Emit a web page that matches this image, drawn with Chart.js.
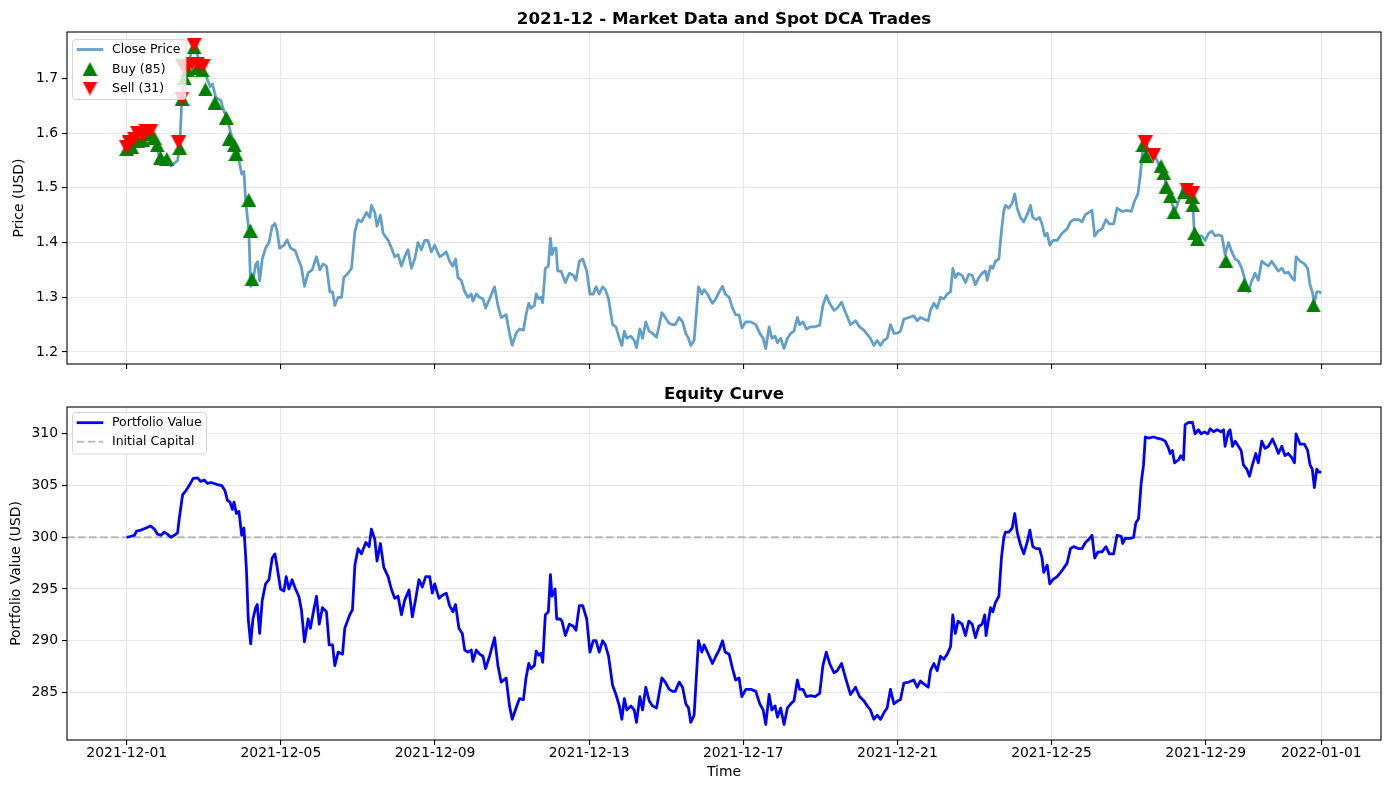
<!DOCTYPE html>
<html>
<head>
<meta charset="utf-8">
<script src="https://cdn.jsdelivr.net/npm/chart.js@4.4.0/dist/chart.umd.min.js"></script>
<style>
body { margin: 0; background: #fff; width: 1389px; height: 790px; overflow: hidden; position: relative; }
canvas { position: absolute; left: 0; }
#top { top: 0; }
#bottom { top: 372px; }
</style>
</head>
<body>
<canvas id="top" width="1389" height="372"></canvas>
<canvas id="bottom" width="1389" height="418"></canvas>
<script>
// hours since 2021-12-01 00:00
const xTickHours = [0, 96, 192, 288, 384, 480, 576, 672, 744];
const xTickLabels = ['2021-12-01', '2021-12-05', '2021-12-09', '2021-12-13', '2021-12-17',
    '2021-12-21', '2021-12-25', '2021-12-29', '2022-01-01'];
const priceTicks = [1.2, 1.3, 1.4, 1.5, 1.6, 1.7];
const equityTicks = [285, 290, 295, 300, 305, 310];
const initialCapital = 300;

// [hour, close]
const closePrice = [
    [0,1.575],[2.7,1.58],[5.8,1.585],[9,1.59],[12,1.595],[15,1.60],[17.8,1.59],[20.3,1.555],[24.4,1.555],
    [27.5,1.54],[29.6,1.545],[31.7,1.55],[33,1.575],[34.3,1.66],[35.8,1.70],[37.9,1.725],[40.5,1.75],[43,1.76],
    [45,1.73],[47.6,1.715],[50,1.70],[52,1.685],[53.4,1.69],[55.5,1.665],[58.6,1.66],[60.6,1.64],[62.7,1.625],
    [64.8,1.60],[66.8,1.585],[68.9,1.575],[70.3,1.545],[71.6,1.525],[73,1.53],[74,1.48],[75,1.45],[76,1.425],
    [77.2,1.32],[78.6,1.33],[80.3,1.36],[81.5,1.365],[82.8,1.33],[84.4,1.37],[86.5,1.39],[88.6,1.40],[90.6,1.43],
    [92.3,1.435],[93.7,1.42],[95.2,1.39],[97.9,1.395],[99.9,1.405],[102,1.39],[105,1.385],[106.8,1.37],
    [108.8,1.355],[110.7,1.32],[113,1.345],[115.5,1.35],
    [118.2,1.374],[120.3,1.35],[122.3,1.361],[124.4,1.357],[126.5,1.31],[128.2,1.31],[129.6,1.285],[131.7,1.30],
    [133.8,1.30],[135.2,1.336],[137.9,1.344],[140,1.353],[142.1,1.42],[144.1,1.442],[146.2,1.438],[149.3,1.455],
    [151.4,1.446],[152.4,1.468],[154.5,1.455],[155.9,1.43],[158,1.45],[159.7,1.417],[162.8,1.404],[164.9,1.39],
    [166.9,1.374],[169,1.378],[171.1,1.357],[173.1,1.374],[175.2,1.387],[177.3,1.353],[179.4,1.37],[181.4,1.40],
    [183.5,1.387],[185.6,1.404],[187.6,1.404],[189.7,1.383],[191.8,1.395],[194.9,1.374],[197,1.378],[199,1.383],
    [201.1,1.366],[203.2,1.357],[204.8,1.37],[206.3,1.336],[208.4,1.331],[210.5,1.31],[212.5,1.30],[214.6,1.306],
    [215.6,1.293],[217.7,1.306],[219.8,1.30],[221.9,1.297],[223.5,1.28],[226,1.297],[229.1,1.319],[231.2,1.285],
    [233.2,1.263],[236.3,1.268],[238.4,1.234],[240.1,1.212],
    [242.5,1.234],[244.6,1.242],[247.1,1.24],[248.7,1.268],[250.4,1.289],[251.8,1.28],[253.9,1.285],[255,1.306],
    [256.6,1.297],[258,1.30],[259.1,1.29],[260.7,1.353],[262.6,1.357],[263.9,1.408],[264.9,1.378],[266.3,1.39],
    [267.4,1.39],[268.4,1.348],[270.5,1.348],[273.2,1.327],[275.7,1.344],[278.2,1.34],[279.8,1.331],[281.9,1.366],
    [284,1.37],[286.5,1.348],[288.5,1.306],[290.6,1.306],[292.3,1.319],[294.3,1.306],[296.4,1.319],[298.1,1.314],
    [300.1,1.297],[302.6,1.25],[304.7,1.246],[306.8,1.225],[308.4,1.212],[309.9,1.238],[311.5,1.225],[314,1.229],
    [316.1,1.221],[317.5,1.208],[319.6,1.242],[321.3,1.225],[323.3,1.255],[325.4,1.238],[327.5,1.234],[330,1.227],
    [333.3,1.272],[335.4,1.263],[337.9,1.252],[340,1.25],[341.6,1.25],[344.1,1.263],[346.2,1.255],[348.2,1.234],
    [349.9,1.225],[351.3,1.212],[353.4,1.221],[356.1,1.319],[358.2,1.306],[359.6,1.314],[361.7,1.306],[364.8,1.289],
    [366.9,1.297],[369,1.31],[371.1,1.32],[372.7,1.306],[375.2,1.30],[377.3,1.28],[379.3,1.268],[381.4,1.268],
    [383.1,1.244],[385.6,1.255],[388.7,1.255],[391.8,1.25],[394.3,1.234],[396.4,1.225],[398,1.206],[400.1,1.246],
    [401.8,1.225],[403.8,1.229],[405.3,1.217],[407.3,1.225],[409.4,1.206],[411.5,1.225],[413.6,1.234],[415.6,1.238],
    [417.7,1.263],[419.1,1.25],[421.2,1.255],[423.3,1.242],[426,1.246],[428.7,1.246],[431.6,1.249],[433.6,1.285],
    [435.7,1.303],[437.8,1.289],[440.5,1.276],[442.5,1.28],[445.2,1.291],[447.7,1.272],[450.8,1.25],[453.9,1.257],
    [456.4,1.246],[459.1,1.24],[461.2,1.232],[463.2,1.225],[465.3,1.212],[467.4,1.221],[469.5,1.212],[471.5,1.221],
    [473.6,1.225],[475.7,1.25],[477.8,1.234],[480.4,1.235],[481.9,1.238],[484,1.26],[487.1,1.263],[490.2,1.266],
    [492.3,1.257],[494.3,1.263],[497.5,1.259],[499.2,1.257],[500.6,1.276],[502.7,1.289],[504.8,1.28],[506.8,1.30],
    [508.9,1.297],[511,1.306],[513.1,1.31],[514.5,1.353],[516.1,1.336],[517.8,1.344],[520.3,1.34],[522.4,1.327],
    [524.5,1.342],[526.6,1.34],[528.6,1.323],[530.7,1.336],[532.8,1.344],[534.8,1.348],[535.9,1.331],[538,1.357],
    [539.4,1.353],[541.1,1.366],[543.2,1.37],[544.8,1.421],[546.3,1.459],[547.3,1.468],[549.4,1.463],[551.5,1.472],
    [553.1,1.489],[554.6,1.463],[556.6,1.446],[558.7,1.438],[560.8,1.451],[562.9,1.468],[564.3,1.446],[566.4,1.442],
    [568.5,1.446],[570.1,1.434],[571.8,1.412],[573.3,1.417],[574.9,1.395],[576.8,1.404],[579.5,1.404],[582.6,1.417],
    [585.7,1.425],[587.8,1.438],[589.8,1.442],[593,1.442],[595,1.438],[597.1,1.451],[599.2,1.455],[601.2,1.459],
    [602.9,1.412],[605,1.421],[607.4,1.425],[609.9,1.442],[612,1.434],[614.7,1.434],[616.8,1.463],
    [618.8,1.459],[620.3,1.457],[623,1.459],[625.7,1.457],[627.7,1.476],[629.8,1.489],[631.3,1.523],[632.7,1.57],
    [634.4,1.583],[636.4,1.57],[638.5,1.566],[640.6,1.557],[642.7,1.544],[644.7,1.536],[646.8,1.514],[648.9,1.497],
    [651,1.472],[652.6,1.455],[654.7,1.472],[656.8,1.489],[658.2,1.506],[660.3,1.502],[662.4,1.493],[663.8,1.48],
    [664.8,1.425],[666.5,1.412],[669.6,1.412],[671.7,1.404],[673.8,1.417],[675.8,1.421],[677.9,1.412],[680,1.414],
    [682.1,1.412],[684.1,1.378],[686.2,1.40],[688.3,1.383],[690.4,1.37],[692.4,1.366],[694.5,1.353],[696.6,1.331],
    [698.7,1.31],[700.3,1.327],[702.8,1.344],[704.8,1.331],[706.9,1.366],[709,1.361],[711.1,1.357],[713.1,1.366],
    [715.2,1.357],[717.3,1.348],[719.4,1.353],[721.4,1.344],[723.5,1.346],[725.6,1.336],[727.3,1.331],[728.3,1.374],
    [730.8,1.366],[733.5,1.361],[735.5,1.353],[737,1.323],[738.4,1.31],[739.7,1.289],[741.2,1.31],[742.6,1.31],[744,1.308]
];

// [hour, price] of trades
const buyTrades = [
    [0,1.571],[3,1.575],[7,1.585],[10,1.587],[14,1.598],[17,1.592],[19,1.578],[21,1.555],[25,1.553],[33,1.573],
    [34.5,1.663],[36,1.70],[38,1.715],[42,1.757],[44,1.72],[47,1.715],[49,1.68],[55,1.656],[62,1.628],[64,1.59],
    [67,1.578],[68,1.562],[76,1.478],[77,1.422],[78,1.333],
    [632.9,1.578],[634.9,1.559],[644.2,1.54],[645.9,1.527],[647.3,1.502],[650,1.485],[652.2,1.455],[658.8,1.493],
    [663.5,1.484],[664,1.468],[665.1,1.417],[666.8,1.406],[684.6,1.366],[696,1.323],[739.1,1.285]
];
const sellTrades = [
    [0,1.574],[1.7,1.583],[4.8,1.59],[6.8,1.60],[10,1.595],[12,1.604],[15,1.604],[32.3,1.583],[34.3,1.663],
    [34.8,1.723],[37.2,1.72],[40.6,1.727],[42,1.761],[44,1.727],[47.6,1.723],
    [634.4,1.583],[639.5,1.56],[660.3,1.497],[663.8,1.49]
];

// [hour, portfolio value]
const portfolioValue = [
    [0,300.0],[2.7,300.1],[4.8,300.2],[6.2,300.6],[8.9,300.7],[12,300.9],[14.7,301.1],[17.2,300.8],[19.2,300.3],
    [21.3,300.2],[23.4,300.5],[25.4,300.3],[27.5,300.0],[30.6,300.3],[31.7,300.45],[32.7,301.8],[33.7,302.9],
    [34.8,304.1],[36.8,304.5],[38.9,305.0],[41.4,305.7],[44.1,305.75],[46.1,305.4],[48.2,305.55],[50.3,305.2],
    [52.3,305.3],[54.4,305.2],[56.5,305.1],[59.2,305.0],[61.2,304.5],[62.7,303.6],[64.3,303.4],[65.8,302.7],
    [66.8,303.4],[68.3,302.3],[69.9,302.5],[71.6,300.2],[73,300.9],[74.5,297.1],[75.7,292.1],[77.2,289.7],
    [78.6,292.1],[80.3,293.2],[81.3,293.5],[82.8,290.7],[84.4,293.9],[86.5,295.5],[88.6,295.9],[90.6,298.0],
    [92.3,298.4],[93.7,297.1],[95.8,295.0],[97.9,294.8],[99.3,296.2],[101,295.0],[103,295.9],[105.1,295.0],
    [107.2,294.3],[108.8,293.0],[110.7,289.9],[113,292.1],[114.4,291.2],[116.5,293.0],
    [118.2,294.3],[119.9,291.6],[121.9,293.2],[124.4,292.8],[126.1,289.6],[128.2,289.6],[129.6,287.6],[131.7,288.9],
    [134.4,288.7],[135.8,291.2],[138.9,292.5],[140.6,293.0],[142.1,297.3],[144.1,298.9],[146.2,298.4],[148.9,299.5],
    [151,299.1],[152.4,300.8],[154.5,299.8],[155.9,297.7],[158,299.4],[160.1,297.1],[162.8,296.2],[164.8,295.0],
    [166.9,294.1],[169,294.3],[171.1,292.5],[173.1,293.9],[175.8,294.9],[177.9,292.3],[179.8,293.9],[182,295.9],
    [184.1,295.2],[186.2,296.2],[188.7,296.2],[190.3,294.6],[191.8,295.5],[194.5,294.1],[196.6,294.4],[199,294.6],
    [201.1,293.4],[203.2,292.8],[204.8,293.5],[206.9,291.2],[209,290.7],[210.5,289.1],[212.5,288.9],[214.6,289.1],
    [215.6,288.0],[217.7,289.1],[219.8,288.7],[221.9,288.5],[223.5,287.3],[226,288.5],[229.1,290.3],[231.2,287.6],
    [233.2,286.0],[236.3,286.4],[238.4,283.7],[240.1,282.4],
    [242.5,283.5],[244.6,284.4],[247.1,284.3],[248.7,286.4],[250.4,287.8],[251.8,287.3],[253.9,287.6],[255,289.0],
    [256.6,288.6],[258,288.8],[259.1,287.9],[260.7,292.5],[262.6,292.8],[263.9,296.4],[264.9,294.3],[266.8,295.0],
    [267.8,292.1],[269.9,292.1],[271.1,291.9],[273.2,290.5],[275.7,291.6],[278.2,291.4],[279.8,291.0],[281.9,293.4],
    [284,293.4],[286.5,292.1],[288.5,288.9],[290.6,290.0],[292.3,290.0],[294.3,288.9],[296.4,290.0],[298.1,289.6],
    [300.1,288.5],[302.6,285.7],[304.7,284.8],[306.8,283.7],[308.4,282.4],[309.9,284.4],[311.5,283.3],[314,283.7],
    [316.1,283.3],[317.5,282.1],[319.6,284.6],[321.3,283.3],[323.3,285.5],[325.4,284.2],[327.5,283.7],[330,283.5],
    [333.3,286.4],[335.4,286.0],[337.9,285.3],[340,285.1],[341.6,285.1],[344.1,286.0],[346.2,285.5],[348.2,283.9],
    [349.9,283.5],[351.3,282.1],[353.4,282.8],[356.1,290.0],[358.2,288.9],[359.6,289.6],[361.7,288.9],[364.8,287.8],
    [366.9,288.5],[369,289.1],[371.1,290.0],[372.7,288.9],[375.2,288.7],[377.3,287.3],[379.3,286.2],[381.4,286.4],
    [383.1,284.6],[385.6,285.3],[388.7,285.3],[391.8,285.1],[394.3,283.9],[396.4,283.3],[398,281.9],[400.1,284.8],
    [401.8,283.3],[403.8,283.7],[405.3,282.6],[407.3,283.5],[409.4,281.9],[411.5,283.5],[413.6,283.9],[415.6,284.2],
    [417.7,286.2],[419.1,285.3],[421.2,285.3],[423.3,284.6],[426,284.7],[428.7,284.6],[431.6,284.9],[433.6,287.6],
    [435.7,288.9],[437.8,287.8],[440.5,286.9],[442.5,287.1],[445.2,287.8],[447.7,286.4],[450.8,284.8],[453.9,285.5],
    [456.4,284.6],[459.1,284.2],[461.2,283.7],[463.2,283.3],[465.3,282.4],[467.4,282.8],[469.5,282.4],[471.5,283.0],
    [473.6,283.5],[475.7,285.3],[477.8,283.9],[480.4,284.2],[481.9,284.3],[484,285.9],[487.1,286.0],[490.2,286.2],
    [492.3,285.5],[494.3,286.1],[497.5,285.7],[499.2,285.5],[500.6,287.1],[502.7,287.8],[504.8,287.1],[506.8,288.5],
    [508.9,288.2],[511,288.7],[513.1,289.4],[514.5,292.5],[516.1,290.7],[517.8,291.9],[520.3,291.6],[522.4,290.5],
    [524.5,291.9],[526.6,291.6],[528.6,290.3],[530.7,291.4],[532.8,291.6],[534.4,292.5],[535.2,290.5],[538,293.2],
    [539.4,292.8],[541.1,293.7],[543.2,294.3],[544.8,298.0],[546.3,300.0],[547.3,300.5],[549.4,300.5],[551.5,300.9],
    [553.1,302.3],[554.6,300.5],[556.6,299.3],[558.7,298.4],[560.8,299.5],[562.5,300.7],[564.3,299.1],[566.4,298.9],
    [568.5,298.9],[570.1,298.0],[571.1,296.6],[573.3,297.3],[574.9,295.5],[576.8,295.9],[579.5,296.2],[582.6,296.8],
    [585.7,297.5],[587.8,298.9],[589.8,299.1],[593,298.9],[595,298.9],[597.1,299.5],[599.2,299.8],[601.2,300.2],
    [602.9,298.0],[605,298.6],[607.4,298.6],[609.9,299.1],[612,298.4],[614.7,298.4],[616.8,300.2],
    [619.4,300.1],[620.3,299.4],[621.9,299.9],[625,299.9],[627.1,300.0],[628.5,301.4],[630.2,301.8],[631.8,305.2],
    [633.3,307.0],[634.4,309.7],[636.4,309.6],[639.5,309.7],[641.6,309.6],[644.3,309.5],[646.8,309.3],[648.9,308.6],
    [649.9,308.1],[651.3,308.4],[652.6,307.2],[655.1,307.5],[656.5,307.9],[658.2,307.5],[659.2,310.9],[661.3,311.1],
    [663.8,311.1],[665.4,310.0],[667.5,310.4],[669.2,310.0],[671.2,310.2],[673.3,310.0],[674.8,310.5],[676.9,310.2],
    [679,310.4],[681.6,310.2],[683.1,310.4],[684.1,308.8],[686.2,310.2],[687.2,310.4],[688.7,308.8],[690.4,309.3],
    [692.4,308.8],[694.1,308.4],[695.5,307.0],[697.6,306.6],[699.3,305.9],[701.1,307.0],[703.2,308.1],[704.8,307.2],
    [706.9,309.3],[709,308.6],[711.1,308.8],[713.6,309.5],[715.6,308.8],[717.3,308.1],[719.4,308.8],[721.4,307.9],
    [723.5,308.1],[725.6,307.7],[727.3,307.2],[728.3,310.0],[730.8,309.0],[733.5,309.0],[735.5,308.4],[737,307.0],
    [738.4,306.6],[739.7,304.8],[741.2,306.6],[742.6,306.3],[744,306.3]
];

const FONT = "'DejaVu Sans', sans-serif";
Chart.defaults.font.family = FONT;
Chart.defaults.color = '#000';

const X_MIN = -37.2, X_MAX = 781.2;
const priceColor = 'rgba(31,119,180,0.7)';
const gridColor = '#e7e7e7';

function toPoints(pairs) {
    return pairs.map(p => ({ x: p[0], y: p[1] }));
}

// matplotlib style triangle markers
function triangle(color, down) {
    const c = document.createElement('canvas');
    c.width = 15; c.height = 14;
    const g = c.getContext('2d');
    g.fillStyle = color;
    g.beginPath();
    if (down) { g.moveTo(0, 0); g.lineTo(15, 0); g.lineTo(7.5, 14); }
    else { g.moveTo(7.5, 0); g.lineTo(15, 14); g.lineTo(0, 14); }
    g.closePath();
    g.fill();
    return c;
}
const buyMarker = triangle('#008000', false);
const sellMarker = triangle('#ff0000', true);

function roundRect(ctx, x, y, w, h, r) {
    ctx.beginPath();
    ctx.moveTo(x + r, y);
    ctx.lineTo(x + w - r, y); ctx.arcTo(x + w, y, x + w, y + r, r);
    ctx.lineTo(x + w, y + h - r); ctx.arcTo(x + w, y + h, x + w - r, y + h, r);
    ctx.lineTo(x + r, y + h); ctx.arcTo(x, y + h, x, y + h - r, r);
    ctx.lineTo(x, y + r); ctx.arcTo(x, y, x + r, y, r);
    ctx.closePath();
}

// frame, title and legend drawn over the datasets
const decorPlugin = {
    id: 'decor',
    afterDatasetsDraw(chart, args, opts) {
        const ctx = chart.ctx, a = chart.chartArea;
        ctx.save();
        ctx.strokeStyle = '#000';
        ctx.lineWidth = 1.1;
        ctx.strokeRect(a.left, a.top, a.right - a.left, a.bottom - a.top);

        ctx.fillStyle = '#000';
        ctx.font = 'bold 16.7px ' + FONT;
        ctx.textAlign = 'center';
        ctx.textBaseline = 'alphabetic';
        ctx.fillText(opts.title, (a.left + a.right) / 2, a.top - 8.3);

        const L = opts.legend;
        ctx.globalAlpha = 0.8;
        roundRect(ctx, L.x, L.y, L.w, L.h, 3);
        ctx.fillStyle = '#fff';
        ctx.fill();
        ctx.strokeStyle = '#cccccc';
        ctx.lineWidth = 1;
        ctx.stroke();
        ctx.globalAlpha = 1;
        ctx.font = '12.5px ' + FONT;
        ctx.textAlign = 'left';
        ctx.textBaseline = 'middle';
        L.items.forEach((it, i) => {
            const y = L.y + L.first + i * L.step;
            if (it.img) {
                ctx.drawImage(it.img, 90 - it.img.width / 2, y - it.img.height / 2);
            } else {
                ctx.beginPath();
                ctx.setLineDash(it.dash || []);
                ctx.strokeStyle = it.color;
                ctx.lineWidth = it.width;
                ctx.moveTo(76.7, y);
                ctx.lineTo(103.3, y);
                ctx.stroke();
                ctx.setLineDash([]);
            }
            ctx.fillStyle = '#000';
            ctx.fillText(it.label, 112, y + 0.5);
        });
        ctx.restore();
    }
};

function xScale(showLabels, height) {
    return {
        type: 'linear', min: X_MIN, max: X_MAX,
        afterBuildTicks: s => { s.ticks = xTickHours.map(v => ({ value: v })); },
        ticks: {
            display: showLabels, autoSkip: false, maxRotation: 0, padding: 0,
            font: { size: 13.9 },
            callback: v => xTickLabels[xTickHours.indexOf(v)]
        },
        grid: { color: gridColor, lineWidth: 1.1, tickColor: '#000', tickWidth: 1.1, tickLength: 5 },
        border: { display: false },
        title: { display: showLabels, text: 'Time', font: { size: 13.9 }, padding: { top: 0, bottom: 9 } },
        afterFit: s => { s.height = height; s.paddingLeft = 0; s.paddingRight = 0; }
    };
}

function yScale(min, max, ticks, label, digits, titlePad) {
    return {
        type: 'linear', min: min, max: max,
        afterBuildTicks: s => { s.ticks = ticks.map(v => ({ value: v })); },
        ticks: { font: { size: 13.9 }, padding: 4, callback: v => v.toFixed(digits) },
        grid: { color: gridColor, lineWidth: 1.1, tickColor: '#000', tickWidth: 1.1, tickLength: 5 },
        border: { display: false },
        title: { display: true, text: label, font: { size: 13.9 }, padding: { top: titlePad, bottom: 0 } },
        afterFit: s => { s.width = 67; s.paddingTop = 0; s.paddingBottom = 0; }
    };
}

new Chart(document.getElementById('top'), {
    type: 'scatter',
    data: {
        datasets: [{
            label: 'Close Price',
            data: toPoints(closePrice),
            showLine: true,
            borderColor: priceColor,
            borderWidth: 2.78,
            borderJoinStyle: 'round',
            pointRadius: 0,
            order: 3
        }, {
            label: 'Buy (85)',
            data: toPoints(buyTrades),
            pointStyle: buyMarker,
            pointRadius: 7,
            order: 2
        }, {
            label: 'Sell (31)',
            data: toPoints(sellTrades),
            pointStyle: sellMarker,
            pointRadius: 7,
            order: 1
        }]
    },
    options: {
        responsive: false, animation: false, events: [],
        layout: { padding: { top: 32, right: 8, left: 0, bottom: 0 } },
        scales: {
            x: xScale(false, 8),
            y: yScale(1.178, 1.785, priceTicks, 'Price (USD)', 1, 11.5)
        },
        plugins: {
            legend: { display: false },
            tooltip: { enabled: false },
            decor: {
                title: '2021-12 - Market Data and Spot DCA Trades',
                legend: {
                    x: 72.5, y: 39.5, w: 113.5, h: 60, first: 10, step: 19.5,
                    items: [
                        { label: 'Close Price', color: priceColor, width: 2.78 },
                        { label: 'Buy (85)', img: buyMarker },
                        { label: 'Sell (31)', img: sellMarker }
                    ]
                }
            }
        }
    },
    plugins: [decorPlugin]
});

new Chart(document.getElementById('bottom'), {
    type: 'scatter',
    data: {
        datasets: [{
            label: 'Portfolio Value',
            data: toPoints(portfolioValue),
            showLine: true,
            borderColor: '#0000ff',
            borderWidth: 2.78,
            borderJoinStyle: 'round',
            pointRadius: 0,
            order: 1
        }, {
            label: 'Initial Capital',
            data: [{ x: X_MIN, y: initialCapital }, { x: X_MAX, y: initialCapital }],
            showLine: true,
            borderColor: 'rgba(128,128,128,0.5)',
            borderWidth: 2.08,
            borderDash: [7.7, 3.3],
            pointRadius: 0,
            order: 2
        }]
    },
    options: {
        responsive: false, animation: false, events: [],
        layout: { padding: { top: 35, right: 8, left: 0, bottom: 0 } },
        scales: {
            x: xScale(true, 50),
            y: yScale(280.4, 312.6, equityTicks, 'Portfolio Value (USD)', 0, 8.5)
        },
        plugins: {
            legend: { display: false },
            tooltip: { enabled: false },
            decor: {
                title: 'Equity Curve',
                legend: {
                    x: 72.5, y: 40.5, w: 134, h: 41.5, first: 10.2, step: 19,
                    items: [
                        { label: 'Portfolio Value', color: '#0000ff', width: 2.78 },
                        { label: 'Initial Capital', color: 'rgba(128,128,128,0.5)', width: 2.08, dash: [7.7, 3.3] }
                    ]
                }
            }
        }
    },
    plugins: [decorPlugin]
});
</script>
</body>
</html>
